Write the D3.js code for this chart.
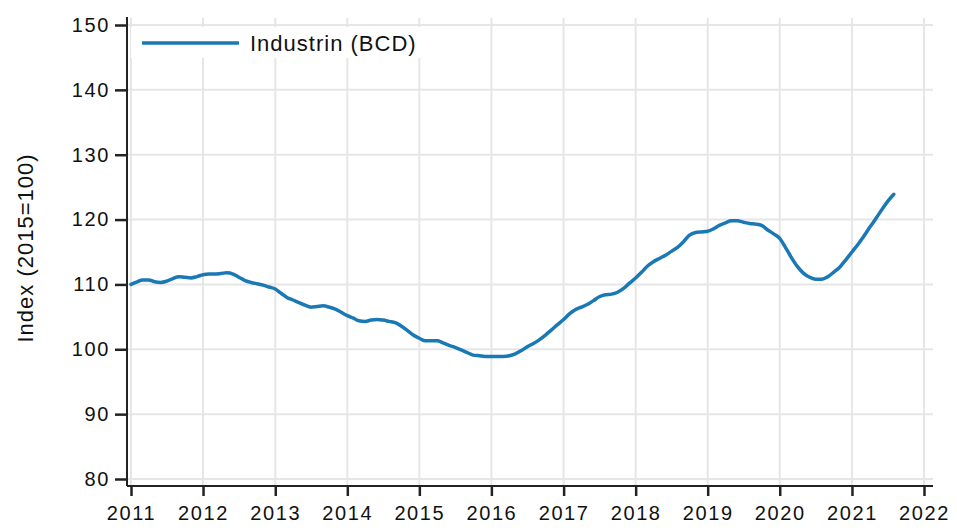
<!DOCTYPE html>
<html lang="sv">
  <head>
    <meta charset="UTF-8" />
    <title>Industrin (BCD)</title>
    <script src="https://d3js.org/d3.v7.min.js"></script>
    <style>
      body {
        margin: 0;
        background-color: #fff;
        font-family: "Liberation Sans", Arial, sans-serif;
      }
      #chart svg {
        display: block;
      }
    </style>
  </head>
  <body>
    <div id="chart"></div>

    <script>
      // monthly index values, Jan 2011 onwards (2015=100)
      const startMonth = new Date(2011, 0, 1);
      const industriValues = [
        110.0, 110.4, 110.7, 110.7, 110.4, 110.3, 110.5, 110.9, 111.2, 111.1, 111.0, 111.2,
        111.5, 111.6, 111.6, 111.7, 111.8, 111.6, 111.1, 110.6, 110.3, 110.1, 109.9, 109.6,
        109.3, 108.6, 108.0, 107.6, 107.2, 106.8, 106.5, 106.6, 106.7, 106.5, 106.2, 105.7,
        105.2, 104.8, 104.4, 104.3, 104.5, 104.6, 104.5, 104.3, 104.1, 103.6, 102.9, 102.2,
        101.7, 101.3, 101.3, 101.3, 101.0, 100.6, 100.3, 99.9, 99.5, 99.1, 99.0, 98.9,
        98.9, 98.9, 98.9, 99.0, 99.3, 99.8, 100.4, 100.9, 101.5, 102.2, 103.0, 103.8,
        104.6, 105.5, 106.1, 106.5, 106.9, 107.5, 108.1, 108.4, 108.5, 108.8, 109.4, 110.2,
        111.0, 111.9, 112.8, 113.5, 114.0, 114.5, 115.1, 115.7, 116.6, 117.6, 118.0, 118.1,
        118.2, 118.6, 119.1, 119.5, 119.8, 119.8, 119.6, 119.4, 119.3, 119.1, 118.4, 117.8,
        117.1, 115.6, 114.1, 112.7, 111.7, 111.1, 110.8, 110.8, 111.2, 111.9, 112.7, 113.8,
        115.0, 116.2, 117.4, 118.8, 120.1, 121.5, 122.8, 123.9
      ];
      const yearTicks = d3.range(2011, 2023);
      const yTicks = [80, 90, 100, 110, 120, 130, 140, 150];
      const seriesName = "Industrin (BCD)";
      const yLabel = "Index (2015=100)";

      const width = 957;
      const height = 532;
      const lineColor = "#1a79b5";
      const gridColor = "#e6e6e6";

      const data = industriValues.map((v, i) => ({
        date: d3.timeMonth.offset(startMonth, i),
        value: v,
      }));

      const svg = d3
        .select("#chart")
        .append("svg")
        .attr("width", width)
        .attr("height", height)
        .style("font-family", '"Liberation Sans", Arial, sans-serif');

      const x = d3
        .scaleTime()
        .domain([new Date(2011, 0, 1), new Date(2022, 0, 1)])
        .range([131, 924]);

      const y = d3.scaleLinear().domain([80, 150]).range([479, 25]);

      const plotLeft = 127,
        plotRight = 933,
        plotTop = 17,
        plotBottom = 486;

      // grid
      svg
        .append("g")
        .selectAll("line")
        .data(yTicks)
        .join("line")
        .attr("x1", plotLeft)
        .attr("x2", plotRight)
        .attr("y1", (d) => y(d))
        .attr("y2", (d) => y(d))
        .attr("stroke", gridColor)
        .attr("stroke-width", 2);

      svg
        .append("g")
        .selectAll("line")
        .data(yearTicks)
        .join("line")
        .attr("x1", (d) => x(new Date(d, 0, 1)))
        .attr("x2", (d) => x(new Date(d, 0, 1)))
        .attr("y1", plotTop + 1)
        .attr("y2", plotBottom)
        .attr("stroke", gridColor)
        .attr("stroke-width", 2);

      // axes
      const xAxis = svg
        .append("g")
        .attr("transform", `translate(0,${plotBottom})`)
        .call(
          d3
            .axisBottom(x)
            .tickValues(yearTicks.map((yr) => new Date(yr, 0, 1)))
            .tickFormat(d3.timeFormat("%Y"))
            .tickSize(10)
            .tickSizeOuter(0)
        );
      xAxis.select(".domain").attr("d", `M${plotLeft},0H${plotRight}`);

      const yAxis = svg
        .append("g")
        .attr("transform", `translate(${plotLeft},0)`)
        .call(d3.axisLeft(y).tickValues(yTicks).tickSize(12).tickSizeOuter(0));
      yAxis.select(".domain").attr("d", `M0,${plotTop}V${plotBottom}`);

      [xAxis, yAxis].forEach((g) => {
        g.select(".domain").attr("stroke", "#222").attr("stroke-width", 2);
        g.selectAll(".tick line").attr("stroke", "#222").attr("stroke-width", 2.5);
        g.selectAll(".tick text")
          .attr("fill", "#111")
          .style("font-size", "20px")
          .style("letter-spacing", "1.6px");
      });
      xAxis.selectAll(".tick text").attr("dy", "1.05em");
      yAxis.selectAll(".tick text").attr("x", -17);

      // line
      svg
        .append("path")
        .datum(data)
        .attr("fill", "none")
        .attr("stroke", lineColor)
        .attr("stroke-width", 3.5)
        .attr("stroke-linejoin", "round")
        .attr("stroke-linecap", "round")
        .attr(
          "d",
          d3
            .line()
            .x((d) => x(d.date))
            .y((d) => y(d.value))
            .curve(d3.curveMonotoneX)
        );

      // legend
      const legend = svg.append("g");
      legend
        .append("rect")
        .attr("x", 131)
        .attr("y", 27)
        .attr("width", 296)
        .attr("height", 31)
        .attr("fill", "#fff");
      legend
        .append("line")
        .attr("x1", 142)
        .attr("x2", 239)
        .attr("y1", 43)
        .attr("y2", 43)
        .attr("stroke", lineColor)
        .attr("stroke-width", 3.5);
      legend
        .append("text")
        .attr("x", 250)
        .attr("y", 50.5)
        .attr("fill", "#111")
        .style("font-size", "22px")
        .style("letter-spacing", "1px")
        .text(seriesName);

      // y label
      svg
        .append("text")
        .attr("transform", "translate(33,248) rotate(-90)")
        .attr("text-anchor", "middle")
        .attr("fill", "#111")
        .style("font-size", "22px")
        .style("letter-spacing", "1px")
        .text(yLabel);
    </script>
  </body>
</html>
